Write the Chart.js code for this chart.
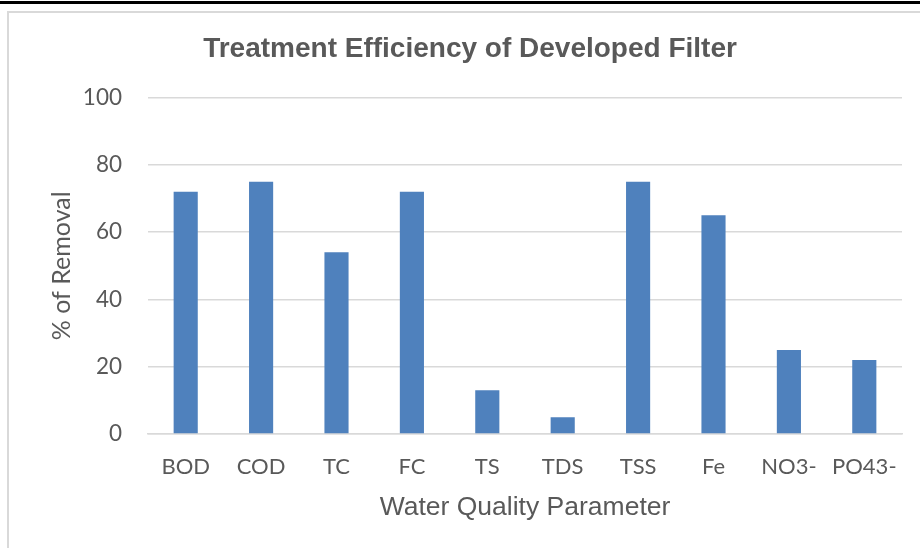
<!DOCTYPE html>
<html>
<head>
<meta charset="utf-8">
<script src="https://cdn.jsdelivr.net/npm/chart.js@4.4.1/dist/chart.umd.min.js"></script>
<style>
  html, body { margin: 0; padding: 0; background: #ffffff; }
  #wrap { width: 920px; height: 548px; position: relative; }
</style>
</head>
<body>
<div id="wrap"><canvas id="c" width="920" height="548"></canvas></div>
<script>
const categories = ["BOD", "COD", "TC", "FC", "TS", "TDS", "TSS", "Fe", "NO3-", "PO43-"];
const removal = [72, 75, 54, 72, 13, 5, 75, 65, 25, 22];
const yTicks = [0, 20, 40, 60, 80, 100];
const chartTitle = "Treatment Efficiency of Developed Filter";
const xTitle = "Water Quality Parameter";
const yTitle = "% of Removal";

const framePlugin = {
  id: 'frame',
  beforeDraw(chart) {
    const ctx = chart.ctx;
    ctx.save();
    ctx.fillStyle = '#ffffff';
    ctx.fillRect(0, 0, chart.width, chart.height);
    ctx.fillStyle = '#000000';
    ctx.fillRect(0, 1, chart.width, 3);
    ctx.fillStyle = '#d9d9d9';
    ctx.fillRect(7, 11, chart.width - 7, 2);
    ctx.fillRect(7, 11, 2, chart.height - 11);
    ctx.restore();
  }
};

new Chart(document.getElementById('c'), {
  type: 'bar',
  data: {
    labels: categories,
    datasets: [{
      data: removal,
      backgroundColor: '#4f81bd',
      borderWidth: 0,
      barPercentage: 1,
      categoryPercentage: 0.32
    }]
  },
  options: {
    responsive: false,
    animation: false,
    devicePixelRatio: 1,
    layout: { padding: { left: 38, right: 18, top: 0, bottom: 0 } },
    plugins: {
      legend: { display: false },
      tooltip: { enabled: false },
      title: {
        display: true,
        text: chartTitle,
        color: '#595959',
        font: { family: 'Liberation Sans', size: 28, weight: 'bold', lineHeight: 1.2 },
        padding: { top: 32, bottom: 32 }
      }
    },
    scales: {
      x: {
        grid: { display: false, drawTicks: false },
        border: { display: true, color: '#d9d9d9', width: 1.5 },
        ticks: {
          color: '#595959',
          font: { family: 'Lato', size: 22 },
          padding: 20,
          maxRotation: 0,
          autoSkip: false
        },
        title: {
          display: true,
          text: xTitle,
          color: '#595959',
          font: { family: 'Liberation Sans', size: 26.5, lineHeight: 1.2 },
          padding: { top: 0, bottom: 24 }
        },
        afterFit(scale) { scale.height = 548 - 434; }
      },
      y: {
        min: 0,
        max: 100,
        afterBuildTicks(scale) { scale.ticks = yTicks.map(v => ({ value: v })); },
        grid: { color: '#d9d9d9', lineWidth: 1.5, drawTicks: false },
        border: { display: false },
        ticks: {
          color: '#595959',
          font: { family: 'Lato', size: 22.5 },
          padding: 26
        },
        title: {
          display: true,
          text: yTitle,
          color: '#595959',
          font: { family: 'Lato', size: 25, lineHeight: 1.2 },
          padding: { top: 9, bottom: 0 }
        },
        afterFit(scale) { scale.width = 110; }
      }
    }
  },
  plugins: [framePlugin]
});
</script>
</body>
</html>
